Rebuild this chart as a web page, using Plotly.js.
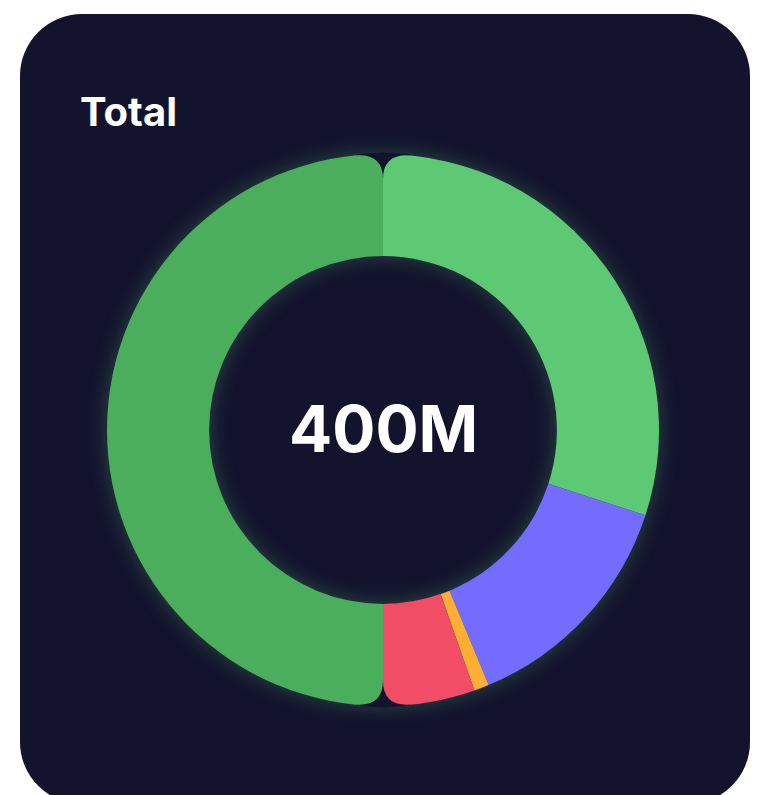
<!DOCTYPE html>
<html>
<head>
<meta charset="utf-8">
<script src="https://cdn.plot.ly/plotly-3.0.1.min.js"></script>
<style>
  html, body { margin: 0; padding: 0; background: #ffffff; }
  #wrap { position: relative; width: 761px; height: 795px; overflow: hidden; }
  #card { position: absolute; left: 20px; top: 14px; width: 730px; height: 790px;
          background: #13132D; border-radius: 62px; }
  #chart { position: absolute; left: 0; top: 0; width: 761px; height: 795px; }
  #chart .pielayer { filter: drop-shadow(0 0 10px rgba(92, 201, 116, 0.3)); }
</style>
</head>
<body>
<div id="wrap">
  <div id="card"></div>
  <div id="chart"></div>
</div>
<script>
// ---- data ----
const labels = ["Segment A", "Segment B", "Segment C", "Segment D", "Segment E"];
const values = [120, 55, 3.5, 21.5, 200];          // millions
const colors = ["#5DC974", "#746CFE", "#FDAE35", "#F24D67", "#4BAE5C"];
const titleText = "Total";
const centerText = "400M";

// ---- layout geometry ----
const W = 761, H = 795;
const cx = 383, cy = 430, R = 276;
const bg = "#13132D";
const px = x => x / W;
const py = y => 1 - y / H;

// masks to round the outer corners at the top and bottom junctions
const rc = 24;
function cornerMask(side, top) {
  const s = side;            // -1 left piece, +1 right piece
  const v = top ? -1 : 1;    // -1 top, +1 bottom
  const d = Math.sqrt((R - rc) * (R - rc) - rc * rc);
  const ccx = cx + s * rc, ccy = cy + v * d;
  const k = R / (R - rc);
  const tx = cx + (ccx - cx) * k, ty = cy + (ccy - cy) * k;
  const ox = cx + (tx - cx) * 1.004, oy = cy + (ty - cy) * 1.004;
  const sy = cy + v * R;
  const path = `M ${px(cx)},${py(ccy)} Q ${px(cx)},${py(sy)} ${px(tx)},${py(ty)} ` +
               `L ${px(ox)},${py(oy)} L ${px(cx)},${py(sy + v * 1.5)} Z`;
  return { type: "path", xref: "paper", yref: "paper", path: path,
           fillcolor: bg, line: { width: 0 }, layer: "above" };
}

const trace = {
  type: "pie",
  labels: labels,
  values: values,
  marker: { colors: colors, line: { width: 0 } },
  hole: 0.63,
  sort: false,
  direction: "clockwise",
  rotation: 0,
  textinfo: "none",
  hoverinfo: "label+value",
  showlegend: false,
  domain: { x: [px(cx - R), px(cx + R)], y: [py(cy + R), py(cy - R)] }
};

const layout = {
  width: W, height: H,
  margin: { l: 0, r: 0, t: 0, b: 0 },
  paper_bgcolor: "rgba(0,0,0,0)",
  plot_bgcolor: "rgba(0,0,0,0)",
  showlegend: false,
  shapes: [cornerMask(-1, true), cornerMask(1, true), cornerMask(-1, false), cornerMask(1, false)],
  annotations: [
    { text: "<b>" + titleText + "</b>", xref: "paper", yref: "paper",
      x: px(78), y: py(112), xanchor: "left", yanchor: "middle", showarrow: false,
      font: { family: "Inter, Lato, sans-serif", size: 40, color: "#ffffff" } },
    { text: "<b>" + centerText + "</b>", xref: "paper", yref: "paper",
      x: px(cx), y: py(428), xanchor: "center", yanchor: "middle", showarrow: false,
      font: { family: "Inter, Lato, sans-serif", size: 64, color: "#ffffff" } }
  ]
};

Plotly.newPlot("chart", [trace], layout, { displayModeBar: false, staticPlot: true });
</script>
</body>
</html>
